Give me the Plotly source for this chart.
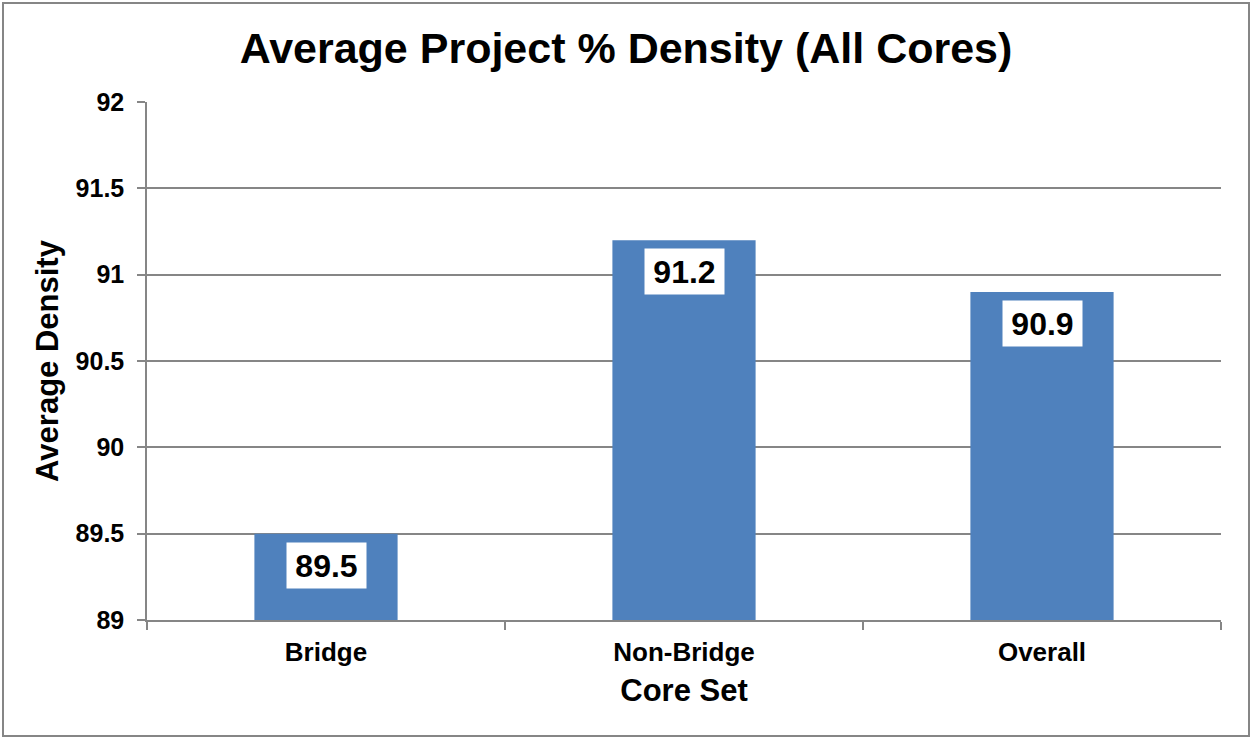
import plotly.graph_objects as go

categories = ["Bridge", "Non-Bridge", "Overall"]
values = [89.5, 91.2, 90.9]
y_ticks = [89, 89.5, 90, 90.5, 91, 91.5, 92]
y_tick_labels = ["89", "89.5", "90", "90.5", "91", "91.5", "92"]

BAR = "#4F81BD"
GRID = "#868686"
FONT = "Liberation Sans, Arial, sans-serif"

fig = go.Figure()
fig.add_trace(go.Bar(x=categories, y=values, marker=dict(color=BAR, line=dict(width=0)),
                     width=0.4, hoverinfo="x+y"))

for c, v in zip(categories, values):
    fig.add_annotation(x=c, y=v, xref="x", yref="y", text=f"<b>{v}</b>", showarrow=False,
                       yanchor="top", yshift=-8, bgcolor="white", borderpad=0,
                       width=79, height=45,
                       font=dict(family=FONT, size=32, color="black"))

fig.update_layout(
    width=1252, height=738,
    margin=dict(l=147, r=31, t=102, b=118),
    paper_bgcolor="white", plot_bgcolor="white",
    showlegend=False,
    title=dict(text="<b>Average Project % Density (All Cores)</b>", x=0.5, xanchor="center",
               y=1 - 48 / 738, yanchor="middle", font=dict(family=FONT, size=43, color="black")),
    font=dict(family=FONT, color="black"),
    bargap=0.6,
)
fig.update_yaxes(range=[89, 92], tickvals=y_ticks, ticktext=[f"<b>{t}</b>" for t in y_tick_labels],
                 showgrid=True, gridcolor=GRID, gridwidth=1.5,
                 showline=True, linecolor=GRID, linewidth=1.5,
                 ticks="outside", ticklen=8, tickcolor=GRID, tickwidth=1.5,
                 ticklabelstandoff=8,
                 tickfont=dict(family=FONT, size=25, color="black"),
                 zeroline=False,
                 title=dict(text="<b>Average Density</b>", standoff=8,
                            font=dict(family=FONT, size=31, color="black")))
fig.update_xaxes(tickvals=categories, ticktext=[f"<b>{c}</b>" for c in categories],
                 showline=True, linecolor=GRID, linewidth=1.5,
                 ticks="outside", ticklen=8, tickcolor=GRID, tickwidth=1.5, tickson="boundaries",
                 ticklabelstandoff=8,
                 tickfont=dict(family=FONT, size=26, color="black"),
                 title=dict(text="<b>Core Set</b>", standoff=13,
                            font=dict(family=FONT, size=31, color="black")))

fig.add_shape(type="rect", xref="paper", yref="paper",
              x0=(3 - 147) / 1074, x1=(1249 - 147) / 1074,
              y0=(620 - 736) / 518, y1=(620 - 3) / 518,
              line=dict(color=GRID, width=2), fillcolor="rgba(0,0,0,0)", layer="below")

fig.write_html("out.html", config={"displayModeBar": False},
               post_script="document.body.style.margin='0px';")
